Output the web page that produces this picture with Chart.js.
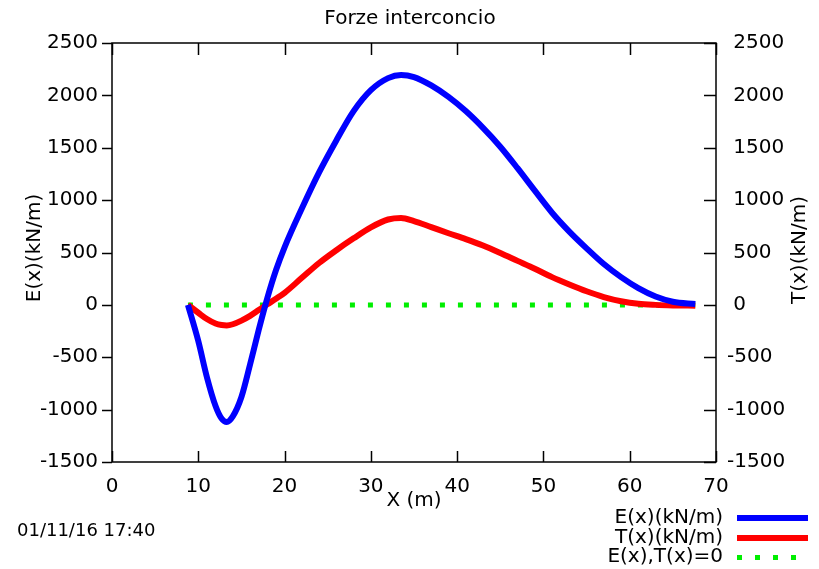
<!DOCTYPE html>
<html lang="it">
<head>
<meta charset="UTF-8">
<title>Forze interconcio</title>
<script src="https://cdn.jsdelivr.net/npm/chart.js"></script>
<style>
  html, body { margin: 0; padding: 0; background: #fff; }
  #wrap { width: 819px; height: 569px; }
</style>
</head>
<body>
<div id="wrap"><canvas id="forze" width="819" height="569"></canvas></div>
<script>
// ascisse (m) e forze di interconcio (kN/m)
const xPos = [8.8, 10, 11, 12, 12.7, 13.3, 14, 15, 16, 17, 18, 19, 20, 22, 24, 26, 28, 30, 32,
              33.5, 35, 37, 39, 41, 43, 45, 47, 49, 51, 53, 55, 57, 59, 61, 63, 65, 67.6];
const eVals = [0, -345, -690, -965, -1085, -1118, -1065, -880, -570, -240, 65, 330, 550, 920,
               1265, 1570, 1850, 2050, 2165, 2195, 2175, 2095, 1985, 1850, 1690, 1510, 1305,
               1090, 880, 700, 540, 390, 265, 160, 80, 30, 8];
const tVals = [0, -75, -135, -178, -192, -196, -185, -150, -105, -50, 5, 58, 115, 258,
               400, 522, 635, 740, 815, 830, 800, 742, 684, 628, 566, 495, 420,
               345, 265, 195, 130, 75, 35, 10, 0, -5, -8];
const zeroX = [8.8, 67.6];
const xTicks = [0, 10, 20, 30, 40, 50, 60, 70];
const yTicks = [-1500, -1000, -500, 0, 500, 1000, 1500, 2000, 2500];

const labels = ['E(x)(kN/m)', 'T(x)(kN/m)', 'E(x),T(x)=0'];
const dateText = '01/11/16 17:40';
const FONT = '"DejaVu Sans", sans-serif';
const FS = 20;

const toPts = (xs, ys) => xs.map((x, i) => ({x, y: ys[i]}));

const frame = {
  id: 'frame',
  afterDraw(chart) {
    const {ctx, chartArea: a} = chart;
    const sx = chart.scales.x, sy = chart.scales.y;
    ctx.save();
    ctx.strokeStyle = '#000';
    ctx.lineWidth = 1.5;
    ctx.strokeRect(a.left, a.top, a.right - a.left, a.bottom - a.top);
    ctx.beginPath();
    xTicks.forEach(v => {
      const px = Math.round(sx.getPixelForValue(v)) + 0.5;
      ctx.moveTo(px, a.bottom); ctx.lineTo(px, a.bottom - 11);
      ctx.moveTo(px, a.top); ctx.lineTo(px, a.top + 12);
    });
    yTicks.forEach(v => {
      const py = Math.round(sy.getPixelForValue(v)) + 0.5;
      ctx.moveTo(a.left, py); ctx.lineTo(a.left - 10, py);
      ctx.moveTo(a.right, py); ctx.lineTo(a.right - 12, py);
    });
    ctx.stroke();

    ctx.fillStyle = '#000';
    ctx.font = FS + 'px ' + FONT;
    ctx.textAlign = 'center';
    ctx.textBaseline = 'middle';
    ctx.fillText('Forze interconcio', 410, 19);
    ctx.fillText('X (m)', 414, 501);

    ctx.save();
    ctx.translate(35, 248);
    ctx.rotate(-Math.PI / 2);
    ctx.fillText('E(x)(kN/m)', 0, 0);
    ctx.restore();
    ctx.save();
    ctx.translate(800, 250);
    ctx.rotate(-Math.PI / 2);
    ctx.fillText('T(x)(kN/m)', 0, 0);
    ctx.restore();

    ctx.font = '18px ' + FONT;
    ctx.textAlign = 'left';
    ctx.fillText(dateText, 17, 531);

    // legenda
    ctx.font = FS + 'px ' + FONT;
    ctx.textAlign = 'right';
    const rows = [517.5, 537.5, 557];
    chart.data.datasets.forEach((ds, i) => {
      ctx.fillStyle = '#000';
      ctx.fillText(ds.label, 723, rows[i]);
      ctx.beginPath();
      ctx.strokeStyle = ds.borderColor;
      ctx.lineWidth = ds.borderWidth;
      ctx.setLineDash(ds.borderDash || []);
      ctx.moveTo(737, rows[i] + 0.5);
      ctx.lineTo(808, rows[i] + 0.5);
      ctx.stroke();
      ctx.setLineDash([]);
    });
    ctx.restore();
  }
};

const tickFont = {family: FONT, size: FS};

new Chart(document.getElementById('forze'), {
  type: 'scatter',
  data: {
    datasets: [
      {label: labels[0], data: toPts(xPos, eVals), borderColor: '#0000ff', borderWidth: 6,
       showLine: true, pointRadius: 0, cubicInterpolationMode: 'monotone', yAxisID: 'y'},
      {label: labels[1], data: toPts(xPos, tVals), borderColor: '#ff0000', borderWidth: 6,
       showLine: true, pointRadius: 0, cubicInterpolationMode: 'monotone', yAxisID: 'y2'},
      {label: labels[2], data: toPts(zeroX, [0, 0]), borderColor: '#00ee00', borderWidth: 5,
       borderDash: [5, 13], showLine: true, pointRadius: 0, yAxisID: 'y'}
    ]
  },
  options: {
    responsive: false,
    animation: false,
    layout: {padding: {top: 43, left: 0, right: 0, bottom: 0}},
    plugins: {legend: {display: false}, tooltip: {enabled: false}},
    scales: {
      x: {
        type: 'linear', min: 0, max: 70,
        afterBuildTicks: s => { s.ticks = xTicks.map(v => ({value: v})); },
        afterFit: s => { s.height = 107; },
        grid: {display: false, drawTicks: false}, border: {display: false},
        ticks: {color: '#000', font: tickFont, padding: 13, maxRotation: 0,
                callback: v => String(v)}
      },
      y: {
        position: 'left', min: -1500, max: 2500,
        afterBuildTicks: s => { s.ticks = yTicks.map(v => ({value: v})); },
        afterFit: s => { s.width = 112; },
        grid: {display: false, drawTicks: false}, border: {display: false},
        ticks: {color: '#000', font: tickFont, padding: 14, callback: v => String(v)}
      },
      y2: {
        position: 'right', min: -1500, max: 2500,
        afterBuildTicks: s => { s.ticks = yTicks.map(v => ({value: v})); },
        afterFit: s => { s.width = 103; },
        grid: {display: false, drawTicks: false}, border: {display: false},
        ticks: {color: '#000', font: tickFont, padding: 11,
                callback: v => (v < 0 ? '' : ' ') + v}
      }
    }
  },
  plugins: [frame]
});
</script>
</body>
</html>
